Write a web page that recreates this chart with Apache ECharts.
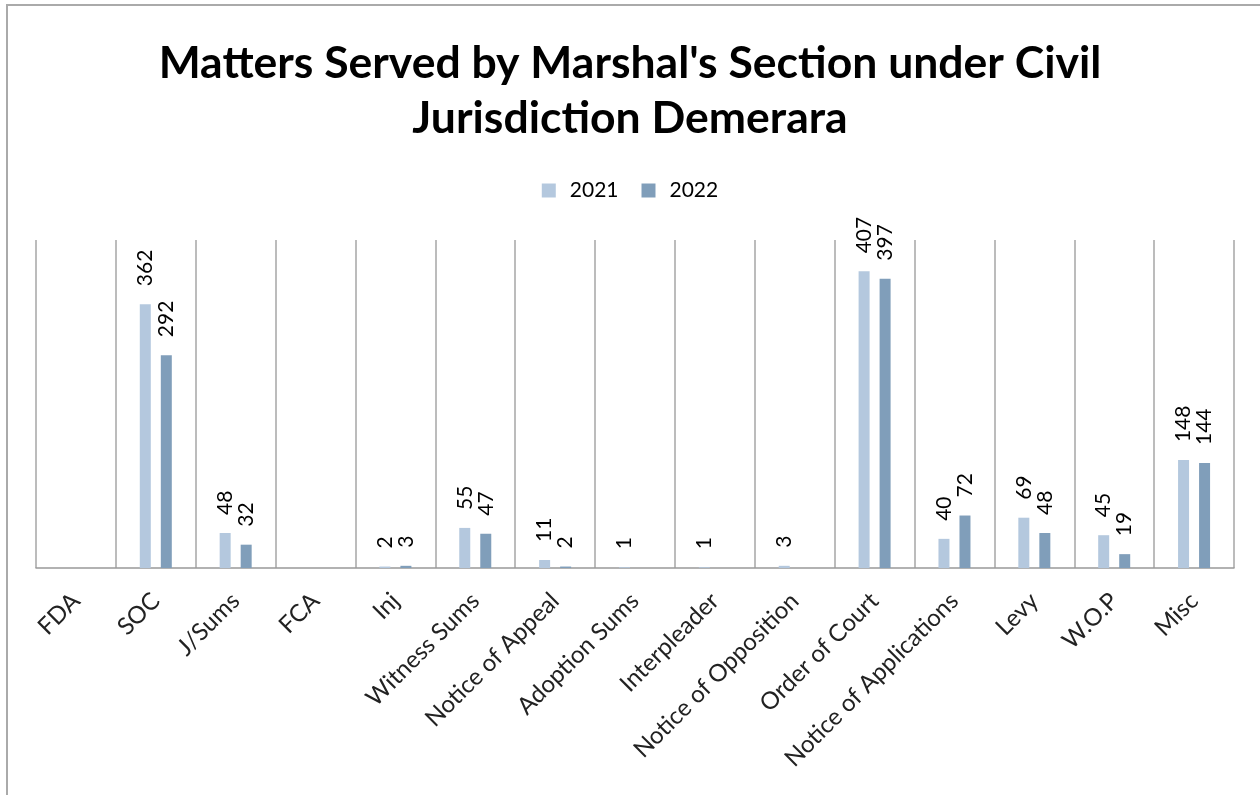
<!DOCTYPE html>
<html>
<head>
<meta charset="utf-8">
<script src="https://cdn.jsdelivr.net/npm/echarts@6/dist/echarts.min.js"></script>
<style>
  html, body { margin: 0; padding: 0; background: #fff; }
  #chart { width: 1260px; height: 795px; }
</style>
</head>
<body>
<div id="chart"></div>
<script>
// categories and values (blank = no value shown)
const categories = ['FDA', 'SOC', 'J/Sums', 'FCA', 'Inj', 'Witness Sums', 'Notice of Appeal',
  'Adoption Sums', 'Interpleader', 'Notice of Opposition', 'Order of Court',
  'Notice of Applications', 'Levy', 'W.O.P', 'Misc'];
const values2021 = [null, 362, 48, null, 2, 55, 11, 1, 1, 3, 407, 40, 69, 45, 148];
const values2022 = [null, 292, 32, null, 3, 47, 2, null, null, null, 397, 72, 48, 19, 144];

const font = 'Lato, "Open Sans", sans-serif';

var myChart = echarts.init(document.getElementById('chart'));

// labels rotated upright above each bar
const barLabel = {
    show: true,
    position: 'top',
    rotate: 90,
    align: 'left',
    verticalAlign: 'middle',
    distance: 18,
    fontFamily: font,
    fontSize: 21,
    color: '#000'
};

var option = {
    animation: false,
    backgroundColor: '#fff',
    title: {
        text: "Matters Served by Marshal's Section under Civil\nJurisdiction Demerara",
        left: 'center',
        top: 31,
        textStyle: {
            fontFamily: font,
            fontWeight: 'bold',
            fontSize: 44.5,
            lineHeight: 55,
            color: '#000'
        }
    },
    legend: {
        top: 175,
        left: 'center',
        itemWidth: 14,
        itemHeight: 14,
        itemGap: 23,
        icon: 'rect',
        textStyle: { fontFamily: font, fontSize: 21, color: '#000', padding: [0, 0, 0, 9] }
    },
    grid: { left: 36, right: 26, top: 240, bottom: 227, containLabel: false },
    xAxis: {
        type: 'category',
        data: categories,
        axisLine: { lineStyle: { color: '#999', width: 1.5 } },
        axisTick: { show: false },
        splitLine: { show: true, lineStyle: { color: '#a6a6a6', width: 1.5 } },
        axisLabel: {
            interval: 0,
            rotate: 45,
            margin: 29,
            fontFamily: font,
            fontSize: 24,
            color: '#222'
        }
    },
    yAxis: {
        type: 'value',
        min: 0,
        max: 450,
        show: false
    },
    series: [
        {
            name: '2021',
            type: 'bar',
            data: values2021,
            barWidth: 11,
            barGap: '91%',
            itemStyle: { color: '#b4c8de' },
            label: barLabel
        },
        {
            name: '2022',
            type: 'bar',
            data: values2022,
            barWidth: 11,
            itemStyle: { color: '#809eba' },
            label: barLabel
        }
    ],
    // chart frame on the left and top edges
    graphic: [
        { type: 'line', shape: { x1: 7, y1: 4, x2: 7, y2: 795 }, style: { stroke: '#aaa', lineWidth: 2 } },
        { type: 'line', shape: { x1: 6, y1: 5, x2: 1260, y2: 5 }, style: { stroke: '#aaa', lineWidth: 2 } }
    ]
};

myChart.setOption(option);
</script>
</body>
</html>
